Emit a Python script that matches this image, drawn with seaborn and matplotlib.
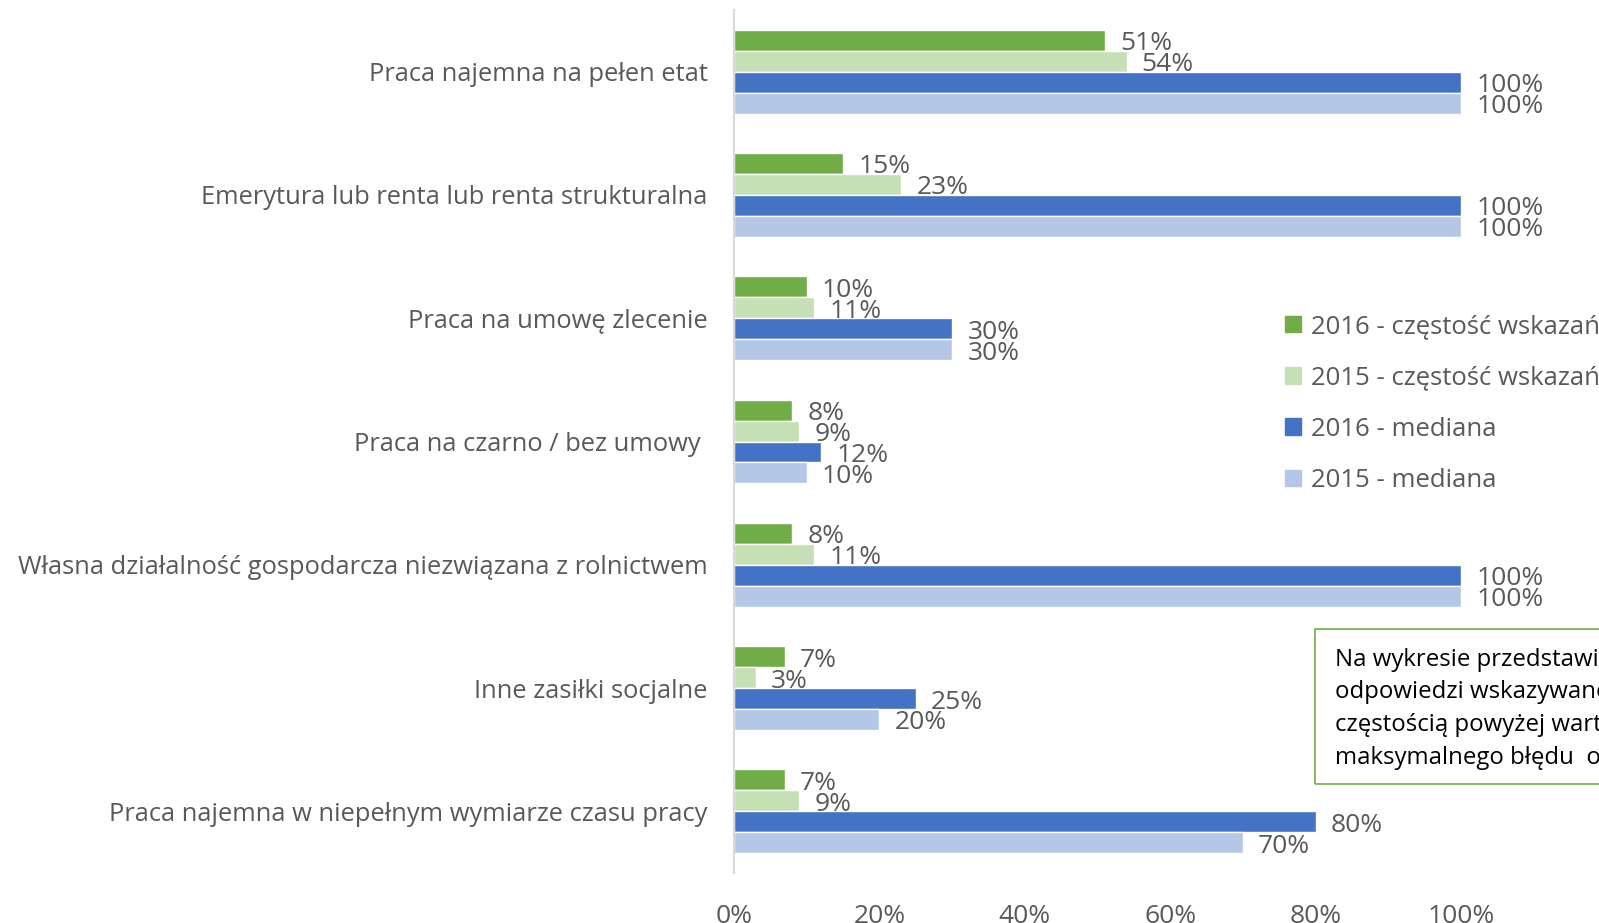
"""
Grouped horizontal bar chart: income sources, 2015 vs 2016
(frequency of answers and median share)
"""

import pandas as pd
import matplotlib
matplotlib.use('Agg')
import matplotlib.pyplot as plt
from matplotlib.patches import Rectangle
import seaborn as sns

categories = [
    'Praca najemna na pełen etat',
    'Emerytura lub renta lub renta strukturalna',
    'Praca na umowę zlecenie',
    'Praca na czarno / bez umowy ',
    'Własna działalność gospodarcza niezwiązana z rolnictwem',
    'Inne zasiłki socjalne',
    'Praca najemna w niepełnym wymiarze czasu pracy',
]
series_names = [
    '2016 - częstość wskazań',
    '2015 - częstość wskazań',
    '2016 - mediana',
    '2015 - mediana',
]
freq_2016 = [51, 15, 10, 8, 8, 7, 7]
freq_2015 = [54, 23, 11, 9, 11, 3, 9]
median_2016 = [100, 100, 30, 12, 100, 25, 80]
median_2015 = [100, 100, 30, 10, 100, 20, 70]
colors = ['#70AD47', '#C5E0B4', '#4472C4', '#B4C7E7']
x_ticks = [0, 20, 40, 60, 80, 100]
note_lines = [
    'Na wykresie przedstawiono',
    'odpowiedzi wskazywane z',
    'częstością powyżej wartości',
    'maksymalnego błędu  oszacowania',
]

TEXT = '#595959'
SANS = ['Open Sans', 'DejaVu Sans']
NARROW = ['Liberation Sans Narrow', 'Open Sans', 'DejaVu Sans']

# long table for seaborn
rows = []
for name, vals in zip(series_names, [freq_2016, freq_2015, median_2016, median_2015]):
    for cat, v in zip(categories, vals):
        rows.append({'cat': cat, 'series': name, 'value': v})
df = pd.DataFrame(rows)

sns.set_style('white')
plt.rcParams['font.family'] = SANS

fig = plt.figure(figsize=(15.99, 9.23), dpi=100)
ax = fig.add_axes([734 / 1599, 1 - 873 / 923, 1 - 734 / 1599, 863 / 923])

sns.barplot(data=df, y='cat', x='value', hue='series', order=categories,
            hue_order=series_names, palette=colors, orient='h', width=0.68,
            saturation=1, ax=ax, legend=False)

for cont in ax.containers:
    texts = ax.bar_label(cont, labels=[f'{b.get_width():.0f}%' for b in cont],
                         padding=11, fontsize=19, color=TEXT, family=NARROW)
    for t in texts:
        t.xyann = (11, -2.5)

ax.set_xlim(0, 119)
ax.set_ylim(6.5, -0.5)
ax.set_xticks(x_ticks)
ax.set_xticklabels([f'{t}%' for t in x_ticks], fontsize=19, color=TEXT, family=NARROW)
ax.tick_params(axis='x', length=0, pad=22)
ax.tick_params(axis='y', length=0, pad=19, labelsize=18.4, labelcolor=TEXT)
ax.set_xlabel('')
ax.set_ylabel('')
for side in ['top', 'right', 'bottom']:
    ax.spines[side].set_visible(False)
ax.spines['left'].set_color('#D9D9D9')
ax.spines['left'].set_linewidth(1.5)

# legend
handles = [Rectangle((0, 0), 1, 1, color=c) for c in colors]
fig.legend(handles, series_names, loc='upper left',
           bbox_to_anchor=(1275 / 1599, 1 - 304 / 923), frameon=False,
           handlelength=0.6, handleheight=0.6, handletextpad=0.42,
           labelspacing=1.02, prop={'family': SANS, 'size': 18.5},
           labelcolor=TEXT, borderaxespad=0)

# note box, cut by the right edge like in the source
fig.patches.append(Rectangle((1315 / 1599, 1 - 784 / 923), 0.3, 155 / 923,
                             transform=fig.transFigure, fill=False,
                             edgecolor='#70AD47', linewidth=1.2))
for i, line in enumerate(note_lines):
    fig.text(1335 / 1599, 1 - (660 + 32.5 * i) / 923, line, fontsize=17.3,
             color='black', va='center', ha='left', family=SANS)

fig.savefig('out.png', dpi=100)
